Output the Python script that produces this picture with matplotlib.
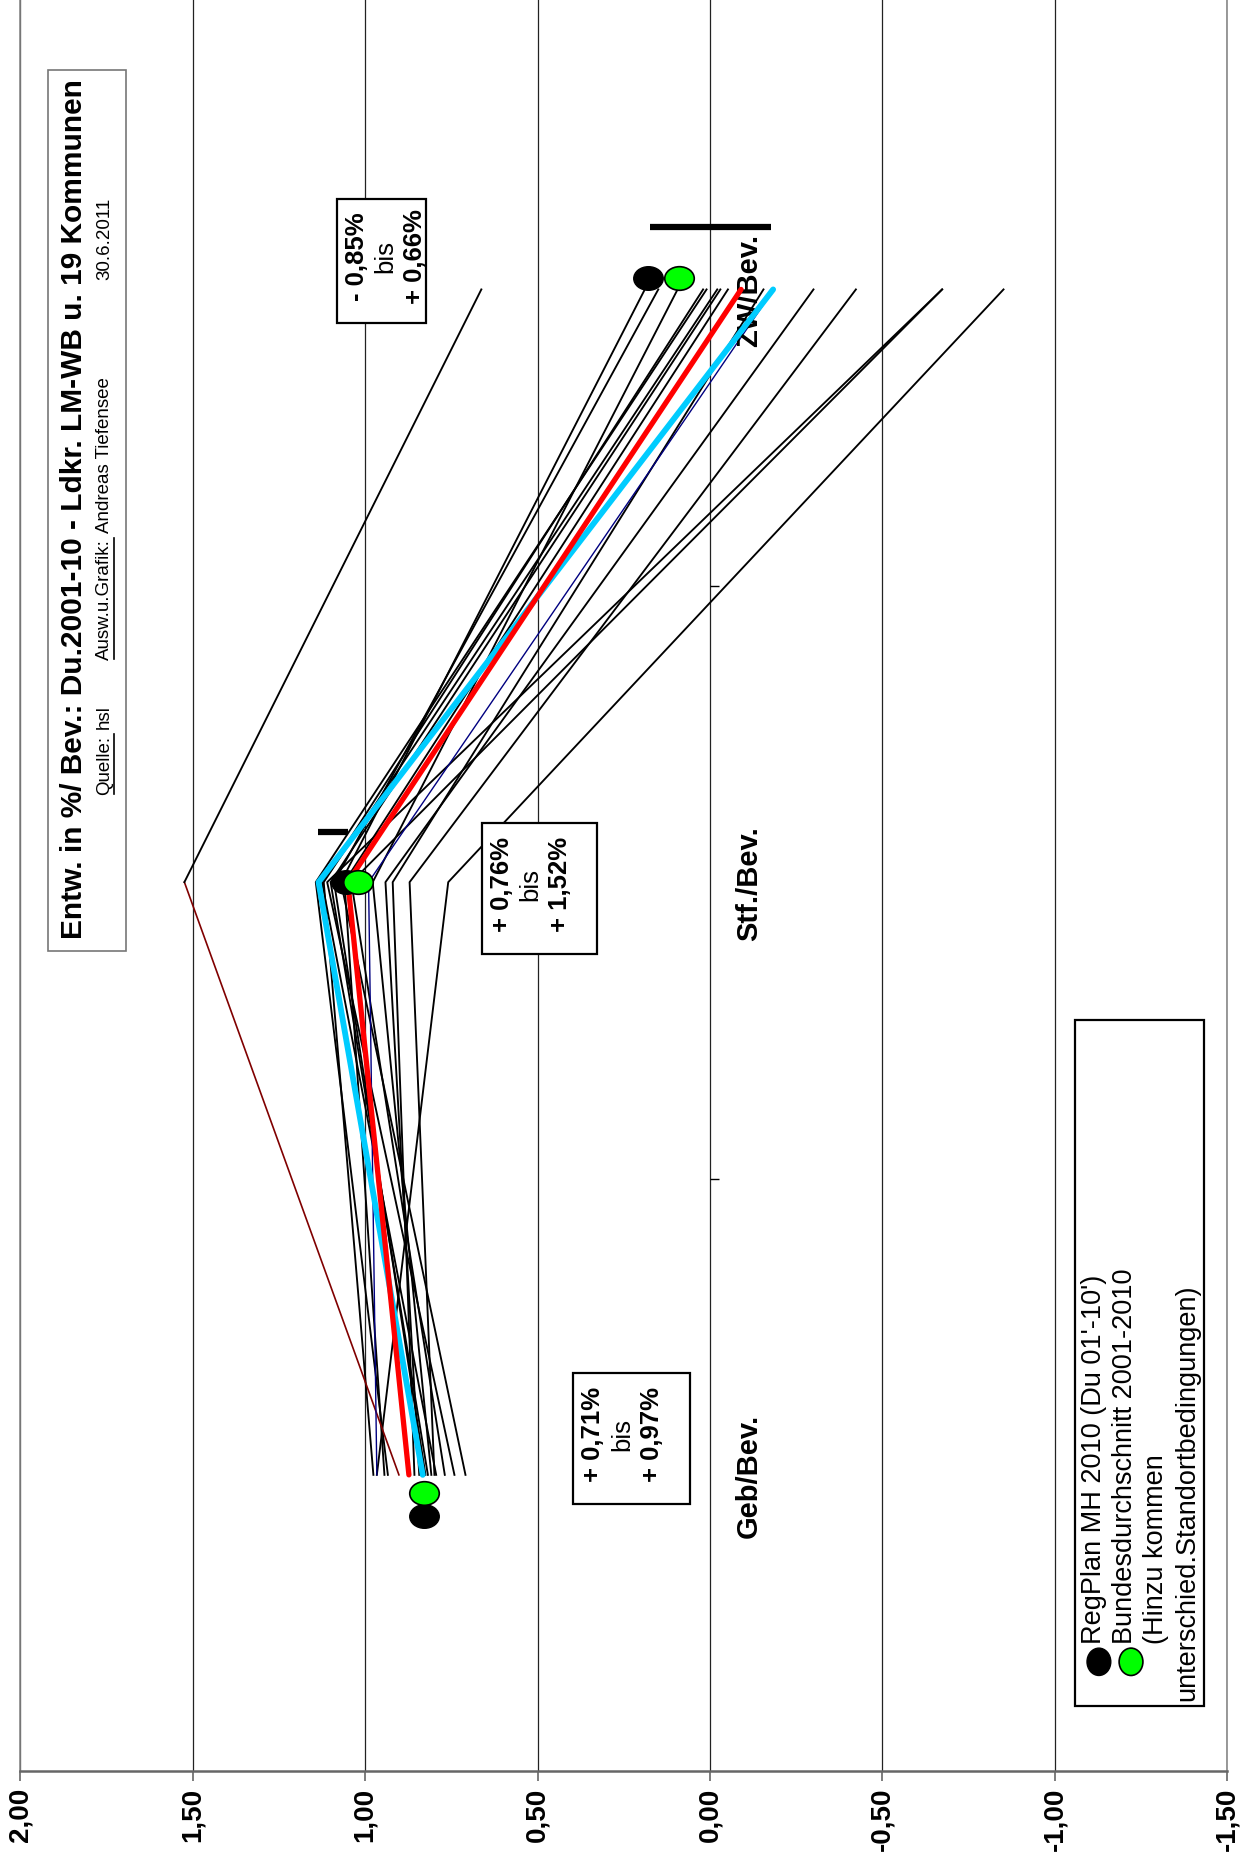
import matplotlib.pyplot as plt
from matplotlib.markers import MarkerStyle
from matplotlib.transforms import Affine2D, offset_copy
from matplotlib.patches import Rectangle, Ellipse
from matplotlib.ticker import FuncFormatter

plt.rcParams['font.family'] = ['Liberation Sans', 'DejaVu Sans']

# ---- data (Entwicklung in % der Bevoelkerung) ----
categories = ['Geb/Bev.', 'Stf./Bev.', 'ZW/Bev.']

# Kommunen, one value per category
kom_geb = [0.934, 0.976, 0.741, 0.818, 0.825, 0.709, 0.944, 0.769, 0.808, 0.843, 0.857, 0.799, 0.966, 0.794]
kom_stf = [1.143, 1.120, 1.110, 1.100, 1.090, 1.070, 1.060, 1.040, 0.978, 0.941, 0.920, 0.871, 0.759, 1.125]
kom_zw = [0.010, -0.021, -0.673, -0.030, 0.150, 0.189, -0.052, -0.673, 0.094, -0.300, -0.155, -0.423, -0.851, 0.020]

landkreis = [0.873, 1.050, -0.090]      # red
region = [0.833, 1.135, -0.183]         # cyan
navy_series = [0.966, 0.990, -0.185]
ausreisser = [0.902, 1.524, 0.663]      # dark red / black

regplan = [0.83, 1.055, 0.18]           # black dots
regplan_pos = [0.43, 1.50, 2.52]
bund = [0.83, 1.02, 0.09]               # green dots
bund_pos = [0.47, 1.50, 2.52]

# range bars (from, to) at category position
bar_from = [1.136, 0.174]
bar_to = [1.051, -0.178]
bar_pos = [1.585, 2.605]

value_ticks = [2.0, 1.5, 1.0, 0.5, 0.0, -0.5, -1.0, -1.5]

range_texts = [('- 0,85%', '+ 0,66%'), ('+ 0,76%', '+ 1,52%'), ('+ 0,71%', '+ 0,97%')]

title = 'Entw. in %/ Bev.: Du.2001-10 - Ldkr. LM-WB u. 19 Kommunen'
legend_lines = ["RegPlan MH 2010 (Du 01'-10')", 'Bundesdurchschnitt 2001-2010',
                '(Hinzu kommen', 'unterschied.Standortbedingungen)']

# ---- figure ----
fig = plt.figure(figsize=(12.44, 18.65), dpi=100)
W, H = 1046, 1568   # layout grid (reference at reduced size)
ax = fig.add_axes([17 / W, 1 - 1490 / H, (1032 - 17) / W, 1490 / H])
ax.set_xlim(2.0, -1.5)
ax.set_ylim(0, 2.99)

cat_pos = [0.5, 1.5, 2.5]

ax.set_xticks(value_ticks)
ax.xaxis.set_major_formatter(FuncFormatter(lambda v, p: f'{v:.2f}'.replace('.', ',')))
ax.tick_params(axis='x', direction='out', length=7, width=1.2, color='#666666', pad=4)
for lab in ax.get_xticklabels():
    lab.set_rotation(90)
    lab.set_fontsize(20)
    lab.set_fontweight('bold')
ax.set_yticks([])
ax.xaxis.grid(True, color='#222222', lw=0.9, zorder=0)
ax.set_axisbelow(True)
ax.spines['top'].set_visible(False)
for s in ['left', 'right']:
    ax.spines[s].set_color('#888888')
    ax.spines[s].set_linewidth(1.2)
ax.spines['bottom'].set_color('#666666')
ax.spines['bottom'].set_linewidth(1.8)

# category axis at zero
ax.hlines([1, 2], 0, -0.025, color='black', lw=1, zorder=2)
lab_tr = offset_copy(ax.transData, fig=fig, x=18, y=0, units='points')
for c, p in zip(categories, cat_pos):
    ax.text(0, p, c, transform=lab_tr, rotation=90, ha='left', va='center',
            fontsize=21, fontweight='bold', zorder=4)

# lines
for g, s, z in zip(kom_geb, kom_stf, kom_zw):
    ax.plot([g, s, z], cat_pos, color='black', lw=1.35, zorder=3)
ax.plot(ausreisser[:2], cat_pos[:2], color='#800000', lw=1.2, zorder=3)
ax.plot(ausreisser[1:], cat_pos[1:], color='black', lw=1.35, zorder=3)
ax.plot(navy_series, cat_pos, color='#000080', lw=1.0, zorder=3)
ax.plot(region, cat_pos, color='#00CCFF', lw=4.2, zorder=4, solid_capstyle='round')
ax.plot(landkreis, cat_pos, color='#FF0000', lw=3.8, zorder=4, solid_capstyle='round')

# range bars
for a, b, p in zip(bar_from, bar_to, bar_pos):
    ax.plot([a, b], [p, p], color='black', lw=4.5, solid_capstyle='butt', zorder=5)

# dots
oval = MarkerStyle('o', transform=Affine2D().scale(1.25, 1.0))
ax.plot(regplan, regplan_pos, ls='none', marker=oval, ms=17, color='black', zorder=6)
ax.plot(bund, bund_pos, ls='none', marker=oval, ms=17, markerfacecolor='#00FF00',
        markeredgecolor='black', markeredgewidth=1.2, zorder=7)

# ---- overlay for text boxes ----
ov = fig.add_axes([0, 0, 1, 1], zorder=10)
ov.set_xlim(0, W)
ov.set_ylim(H, 0)
ov.axis('off')
ov.patch.set_alpha(0)

fig.canvas.draw()
renderer = fig.canvas.get_renderer()
inv = ov.transData.inverted()


def text_run(x, y, parts, size):
    # draws rotated text pieces one after another, bottom to top
    for txt, under in parts:
        t = ov.text(x, y, txt, rotation=90, ha='center', va='bottom', fontsize=size)
        bb = t.get_window_extent(renderer)
        (x0, y0), (x1, y1) = inv.transform([[bb.x0, bb.y0], [bb.x1, bb.y1]])
        if under:
            ov.plot([x1 + 0.5, x1 + 0.5], [y0, y1], color='black', lw=1.2)
        y = y1 - 5


ov.add_patch(Rectangle((40, 60), 66, 740, facecolor='white', edgecolor='#777777', lw=1.2))
ov.text(62, 428, title, rotation=90, ha='center', va='center', fontsize=21.5, fontweight='bold')
text_run(88, 668, [('Quelle:', True), ('hsl', False)], 13.5)
text_run(88, 555, [('Ausw.u.Grafik:', True), ('Andreas Tiefensee', False)], 13.5)
text_run(88, 235, [('30.6.2011', False)], 13.5)

boxes = [(283, 168, 75, 104), (405, 693, 97, 110), (482, 1155, 98, 110)]
for (bx, by, bw, bh), (t1, t2) in zip(boxes, range_texts):
    ov.add_patch(Rectangle((bx, by), bw, bh, facecolor='white', edgecolor='black', lw=1.6))
    cy = by + bh / 2 - 4
    ov.text(bx + 17, cy, t1, rotation=90, ha='center', va='center', fontsize=18.5, fontweight='bold')
    ov.text(bx + 41, cy, 'bis', rotation=90, ha='center', va='center', fontsize=18.5)
    ov.text(bx + 66, cy, t2, rotation=90, ha='center', va='center', fontsize=18.5, fontweight='bold')

# legend
ov.add_patch(Rectangle((904, 858), 108, 577, facecolor='white', edgecolor='black', lw=1.6))
ov.add_patch(Ellipse((924, 1398), 20, 23, facecolor='black', edgecolor='black'))
ov.add_patch(Ellipse((951, 1398), 20, 23, facecolor='#00FF00', edgecolor='black', lw=1.2))
leg_x = [920, 946, 972, 998]
leg_y = [1382, 1382, 1382, 1430]
for lx, ly, lt in zip(leg_x, leg_y, legend_lines):
    ov.text(lx, ly, lt, rotation=90, ha='center', va='bottom', fontsize=19.5)

fig.savefig('out.png', dpi=100)
